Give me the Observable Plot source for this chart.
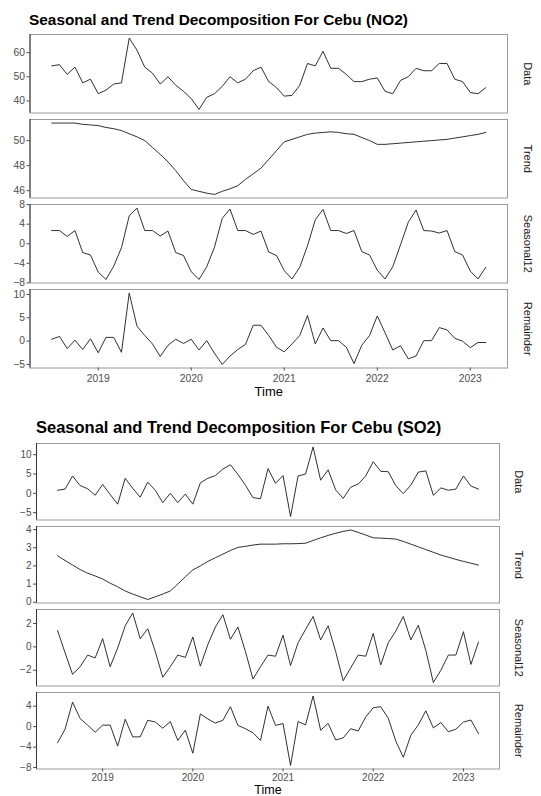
<!DOCTYPE html>
<html>
<head>
<meta charset="utf-8">
<script src="https://cdn.jsdelivr.net/npm/d3@7"></script>
<script src="https://cdn.jsdelivr.net/npm/@observablehq/plot@0.6"></script>
<style>
  body { margin: 0; background: #fff; font-family: "Liberation Sans", Arial, sans-serif; }
  #root { position: relative; width: 541px; height: 796px; overflow: hidden; background: #fff; }
  .title { position: absolute; font-weight: bold; color: #000; white-space: nowrap; }
  #root svg { position: absolute; left: 0; }
</style>
</head>
<body>
<div id="root"></div>
<script>
// ---- time axis: monthly series, July 2018 to March 2023 ----
const startYear = 2018;
const startMonth = 6; // July (0-based)
const yearTicks = [2019, 2020, 2021, 2022, 2023];
const panelLabels = ["Data", "Trend", "Seasonal12", "Remainder"];

// ---- NO2 ----
const no2Data = [54.5, 55, 51, 54, 47.5, 49,
  43, 44.5, 47, 47.5, 66, 61, 54, 51.5, 47, 50, 46.5, 44,
  41, 36.5, 41.5, 43, 46, 50, 47.5, 49, 52.5, 54, 48, 45.5,
  42, 42.3, 46.5, 55.5, 54.5, 60.5, 53.5, 53.5, 51, 48, 48, 49,
  49.5, 44, 43, 48.5, 50, 53.5, 52.5, 52.5, 55.5, 55.5, 49, 48,
  43.5, 43, 45.5];
const no2Trend = [51.4, 51.4, 51.4, 51.4, 51.3, 51.25,
  51.2, 51.05, 50.95, 50.8, 50.55, 50.3, 50.0, 49.45, 48.9, 48.3, 47.6, 46.8,
  46.1, 45.95, 45.8, 45.7, 45.95, 46.15, 46.4, 46.9, 47.35, 47.8, 48.5, 49.2,
  49.9, 50.1, 50.3, 50.5, 50.6, 50.65, 50.7, 50.65, 50.55, 50.5, 50.25, 50.0,
  49.7, 49.7, 49.75, 49.8, 49.85, 49.9, 49.95, 50.0, 50.05, 50.1, 50.2, 50.3,
  50.4, 50.5, 50.65];
const no2Seasonal = [2.7, 2.7, 1.5, 2.7, -1.8, -2.3,
  -5.8, -7.3, -4.6, -0.8, 5.7, 7.3, 2.7, 2.7, 1.6, 2.6, -1.8, -2.4,
  -5.7, -7.3, -4.7, -0.7, 5.2, 7.1, 2.7, 2.7, 1.9, 2.6, -1.7, -2.4,
  -5.5, -7.2, -4.8, -0.4, 4.9, 7.0, 2.7, 2.7, 2.1, 2.7, -1.6, -2.3,
  -5.4, -7.2, -4.7, -0.2, 4.4, 6.9, 2.7, 2.6, 2.2, 2.7, -1.6, -2.3,
  -5.6, -7.2, -4.8];
const no2Remainder = [0.4, 1.0, -1.6, 0.2, -1.8, 0.5,
  -2.5, 0.8, 0.8, -2.4, 10.3, 3.2, 1.2, -0.6, -3.3, -0.9, 0.4, -0.5,
  0.4, -1.9, 0.1, -2.6, -5.0, -3.2, -1.8, -0.7, 3.4, 3.4, 1.2, -1.3,
  -2.3, -0.6, 1.2, 5.5, -0.6, 2.8, 0.1, 0.1, -1.3, -4.8, -0.9, 1.2,
  5.4, 1.8, -1.9, -1.0, -3.8, -3.2, 0.1, 0.1, 2.9, 2.4, 0.6, 0.0,
  -1.4, -0.3, -0.3];
const no2Ticks = [[40, 50, 60], [46, 48, 50], [-8, -4, 0, 4, 8], [-5, 0, 5, 10]];

// ---- SO2 ----
const so2Data = [0.8, 1.1, 4.5, 2.0, 1.2, -0.5,
  2.3, -0.3, -2.8, 3.9, 1.3, -1.0, 2.9, 0.8, -2.4, 0.0, -2.4, -0.2,
  -2.8, 2.7, 3.9, 4.6, 6.3, 7.4, 4.9, 2.1, -1.1, -1.4, 6.4, 2.6,
  4.6, -6.0, 4.5, 5.0, 12.0, 3.4, 6.1, 0.9, -1.3, 1.6, 2.4, 4.5,
  8.2, 5.7, 5.6, 2.0, -0.1, 2.1, 5.5, 5.8, -0.5, 1.4, 0.8, 1.1,
  4.5, 1.9, 1.1];
const so2Trend = [2.56, 2.3, 2.05, 1.8, 1.6, 1.45,
  1.28, 1.05, 0.85, 0.62, 0.45, 0.3, 0.15, 0.3, 0.45, 0.62, 1.0, 1.4,
  1.78, 2.0, 2.25, 2.45, 2.65, 2.85, 3.02, 3.08, 3.15, 3.2, 3.2, 3.2,
  3.22, 3.22, 3.23, 3.25, 3.4, 3.55, 3.68, 3.8, 3.9, 3.98, 3.85, 3.7,
  3.55, 3.53, 3.51, 3.48, 3.35, 3.2, 3.05, 2.9, 2.75, 2.6, 2.48, 2.36,
  2.25, 2.15, 2.05];
const so2Seasonal = [1.4, -0.5, -2.35, -1.7, -0.7, -0.95,
  0.7, -1.7, -0.1, 1.8, 2.9, 0.7, 1.55, -0.4, -2.6, -1.7, -0.7, -0.9,
  0.85, -1.65, 0.2, 1.7, 2.75, 0.65, 1.7, -0.4, -2.75, -1.7, -0.7, -0.8,
  1.0, -1.6, 0.35, 1.5, 2.6, 0.6, 1.8, -0.4, -2.9, -1.8, -0.7, -0.8,
  1.15, -1.55, 0.35, 1.35, 2.6, 0.6, 1.85, -0.3, -3.05, -2.0, -0.7, -0.7,
  1.3, -1.5, 0.4];
const so2Remainder = [-3.15, -0.5, 4.8, 1.6, 0.3, -1.1,
  0.3, 0.3, -3.8, 1.45, -2.0, -2.0, 1.25, 0.9, -0.3, 1.0, -2.7, -0.7,
  -5.2, 2.5, 1.5, 0.7, 1.25, 3.9, 0.25, -0.4, -1.2, -2.7, 4.0, 0.25,
  0.6, -7.6, 1.0, 0.35, 6.0, -0.7, 0.65, -2.6, -2.2, -0.4, -0.85, 1.9,
  3.7, 3.9, 1.65, -2.8, -6.0, -1.7, 0.35, 3.1, -0.25, 0.8, -1.0, -0.5,
  0.9, 1.3, -1.35];
const so2Ticks = [[-5, 0, 5, 10], [0, 1, 2, 3, 4], [-2, 0, 2], [-8, -4, 0, 4]];

// ---- layout ----
const charts = [
  {
    title: "Seasonal and Trend Decomposition For Cebu (NO2)",
    titleLeft: 29, titleTop: 12, titleSize: 15.4,
    left: 29.5, right: 507, tops: [34, 119.2, 204.3, 289.4], h: 78.5,
    series: [no2Data, no2Trend, no2Seasonal, no2Remainder], ticks: no2Ticks,
    tickFont: 10.3, stripDx: 20, xLabelPad: 4, timeDy: 27.5, timeSize: 13
  },
  {
    title: "Seasonal and Trend Decomposition For Cebu (SO2)",
    titleLeft: 36, titleTop: 419, titleSize: 16.5,
    left: 36, right: 499, tops: [442.7, 526, 609.3, 691.7], h: 76.5,
    series: [so2Data, so2Trend, so2Seasonal, so2Remainder], ticks: so2Ticks,
    tickFont: 10, stripDx: 19, xLabelPad: 2, timeDy: 24.5, timeSize: 12.5
  }
];

const root = document.getElementById("root");
const FONT = '"Liberation Sans", Arial, sans-serif';

for (const c of charts) {
  const t = document.createElement("div");
  t.className = "title";
  t.textContent = c.title;
  t.style.left = c.titleLeft + "px";
  t.style.top = c.titleTop + "px";
  t.style.fontSize = c.titleSize + "px";
  t.style.lineHeight = c.titleSize + "px";
  root.appendChild(t);

  c.series.forEach((values, k) => {
    const bottom = k === c.series.length - 1;
    const data = values.map((v, i) => ({ t: startYear + (startMonth + i) / 12, v }));
    const [lo, hi] = d3.extent(values);
    const pad = (hi - lo) * 0.05;
    const [t0, t1] = d3.extent(data, d => d.t);
    const tp = (t1 - t0) * 0.05;
    const mb = bottom ? 40 : 0;
    const marks = [
      Plot.frame({ stroke: "#9a9a9a", strokeWidth: 1 }),
      Plot.ruleX([t0 - tp], { stroke: "#333", strokeWidth: 1 }),
      Plot.axisY(c.ticks[k], {
        tickSize: 3, tickPadding: 2, fontSize: c.tickFont, color: "#4d4d4d", label: null
      }),
      Plot.line(data, { x: "t", y: "v", stroke: "#1a1a1a", strokeWidth: 0.9 }),
      Plot.text([panelLabels[k]], {
        frameAnchor: "right", textAnchor: "middle", rotate: 90, dx: c.stripDx,
        fontSize: 11, fill: "#1a1a1a"
      })
    ];
    if (bottom) {
      marks.push(Plot.axisX(yearTicks, {
        tickSize: 3, tickPadding: c.xLabelPad, fontSize: c.tickFont, color: "#4d4d4d",
        tickFormat: d => String(d), label: null
      }));
      marks.push(Plot.text(["Time"], {
        frameAnchor: "bottom", dy: c.timeDy, fontSize: c.timeSize, fill: "#000"
      }));
    }
    const svg = Plot.plot({
      width: 541,
      height: c.h + mb,
      marginTop: 0,
      marginBottom: mb,
      marginLeft: c.left,
      marginRight: 541 - c.right,
      style: { overflow: "visible", fontFamily: FONT, background: "transparent" },
      x: { type: "linear", domain: [t0 - tp, t1 + tp], axis: bottom ? undefined : null },
      y: { domain: [lo - pad, hi + pad] },
      marks
    });
    svg.style.top = c.tops[k] + "px";
    root.appendChild(svg);
  });
}
</script>
</body>
</html>
